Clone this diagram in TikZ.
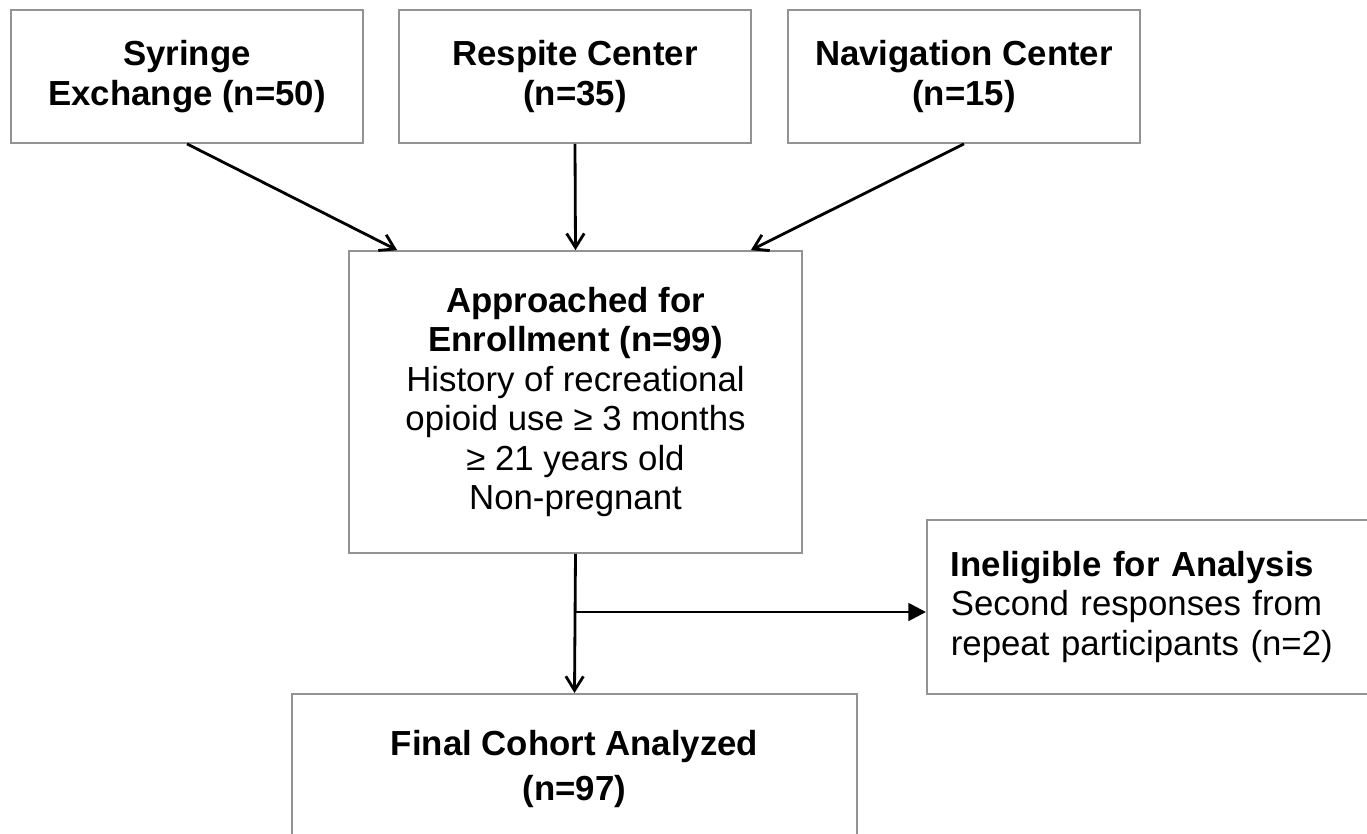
\documentclass[tikz,border=0pt]{standalone}
\usepackage{fontspec}
\setmainfont{Liberation Sans}
\usetikzlibrary{arrows.meta}

\begin{document}
\begin{tikzpicture}[x=0.02cm, y=-0.02cm,
  box/.style={draw=gray!85, line width=1pt, align=center,
    font=\fontsize{19.8}{22.4}\selectfont},
  site/.style={box, minimum width=7.04cm, minimum height=2.66cm},
  feed/.style={line width=1.6pt, -{Straight Barb[length=8pt, width=10pt]}},
  side/.style={line width=1.6pt, -{Triangle[length=10pt, width=10pt]}}]
  \useasboundingbox (0,0) rectangle (1367,833);

  % recruitment sites
  \node[site] (syr)  at (187,76.5) {\textbf{Syringe}\\\textbf{Exchange (n=50)}};
  \node[site] (resp) at (575,76.5) {\textbf{Respite Center}\\\textbf{(n=35)}};
  \node[site] (nav)  at (964,76.5) {\textbf{Navigation Center}\\\textbf{(n=15)}};

  \node[box, minimum width=9.06cm, minimum height=6.04cm] (appr) at (575.5,402)
    {\textbf{Approached for}\\\textbf{Enrollment (n=99)}\\History of recreational\\
     opioid use ≥ 3 months\\≥ 21 years old\\Non-pregnant};

  \node[box, anchor=north west, align=left, text width=8.2cm, inner xsep=0.48cm,
    minimum height=3.48cm] (inel) at (926,519)
    {\textbf{Ineligible for Analysis}\\Second responses from\\repeat participants (n=2)};

  \node[box, anchor=north, minimum width=11.3cm, minimum height=3cm] (final) at (574.5,693)
    {\textbf{Final Cohort Analyzed}\\[3pt]\textbf{(n=97)}};

  \draw[feed] (syr.south) -- ([xshift=0.98cm]appr.north west);
  \draw[feed] (resp.south) -- (appr.north);
  \draw[feed] (nav.south) -- ([xshift=-1.04cm]appr.north east);

  \coordinate (split) at (appr.south |- 0,612);
  \draw[feed] (appr.south) -- (final.north);
  \draw[side] (split) -- (split -| inel.west);
\end{tikzpicture}
\end{document}
